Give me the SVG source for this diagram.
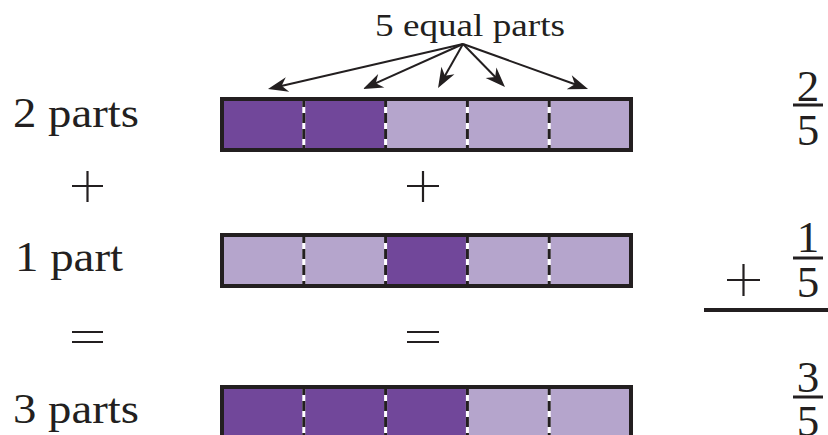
<svg xmlns="http://www.w3.org/2000/svg" width="828" height="435" viewBox="0 0 828 435">
<style>
text{font-family:"Liberation Serif","DejaVu Serif",serif;fill:#231f20}
.lbl{font-size:42px}
.frac{font-size:45px;text-anchor:middle}
.dk{fill:#71479a}
.lt{fill:#b5a5cc}
.frame{fill:none;stroke:#231f20;stroke-width:4}
.divw{stroke:#ffffff;stroke-width:3}
.divb{stroke:#231f20;stroke-width:3;stroke-dasharray:10 6}
.sym{stroke:#231f20;stroke-width:2.2;fill:none}
.arr{stroke:#231f20;stroke-width:2;fill:none;marker-end:url(#ah)}
.rule{stroke:#231f20;stroke-width:3}
</style>
<defs>
<marker id="ah" markerUnits="userSpaceOnUse" markerWidth="40" markerHeight="40" refX="0" refY="0" orient="auto" overflow="visible">
<path d="M8,0 L-12,-7.5 L-6,0 L-12,7.5 Z" fill="#231f20"/>
</marker>
<g id="dividers">
<line class="divw" x1="303.8" y1="0" x2="303.8" y2="55"/>
<line class="divw" x1="385.6" y1="0" x2="385.6" y2="55"/>
<line class="divw" x1="467.4" y1="0" x2="467.4" y2="55"/>
<line class="divw" x1="549.2" y1="0" x2="549.2" y2="55"/>
<line class="divb" x1="303.8" y1="0" x2="303.8" y2="55"/>
<line class="divb" x1="385.6" y1="0" x2="385.6" y2="55"/>
<line class="divb" x1="467.4" y1="0" x2="467.4" y2="55"/>
<line class="divb" x1="549.2" y1="0" x2="549.2" y2="55"/>
</g>
</defs>

<g id="label-top">
<text x="375" y="36" style="font-size:32px" textLength="190" lengthAdjust="spacingAndGlyphs">5 equal parts</text>
</g>

<g id="connectors">
<line class="arr" x1="463" y1="44" x2="275.8" y2="87.2"/>
<line class="arr" x1="463" y1="44" x2="370.3" y2="85.7"/>
<line class="arr" x1="463" y1="44" x2="442" y2="81"/>
<line class="arr" x1="463" y1="44" x2="499.4" y2="81.3"/>
<line class="arr" x1="463" y1="44" x2="580.5" y2="86.3"/>
</g>

<g id="bar1" transform="translate(0,97)">
<rect class="dk" x="222" y="2" width="81.8" height="51"/>
<rect class="dk" x="303.8" y="2" width="81.8" height="51"/>
<rect class="lt" x="385.6" y="2" width="81.8" height="51"/>
<rect class="lt" x="467.4" y="2" width="81.8" height="51"/>
<rect class="lt" x="549.2" y="2" width="81.8" height="51"/>
<use href="#dividers"/>
<rect class="frame" x="222" y="2" width="409" height="51"/>
</g>

<g id="bar2" transform="translate(0,233)">
<rect class="lt" x="222" y="2" width="81.8" height="51"/>
<rect class="lt" x="303.8" y="2" width="81.8" height="51"/>
<rect class="dk" x="385.6" y="2" width="81.8" height="51"/>
<rect class="lt" x="467.4" y="2" width="81.8" height="51"/>
<rect class="lt" x="549.2" y="2" width="81.8" height="51"/>
<use href="#dividers"/>
<rect class="frame" x="222" y="2" width="409" height="51"/>
</g>

<g id="bar3" transform="translate(0,385)">
<rect class="dk" x="222" y="2" width="81.8" height="51"/>
<rect class="dk" x="303.8" y="2" width="81.8" height="51"/>
<rect class="dk" x="385.6" y="2" width="81.8" height="51"/>
<rect class="lt" x="467.4" y="2" width="81.8" height="51"/>
<rect class="lt" x="549.2" y="2" width="81.8" height="51"/>
<use href="#dividers"/>
<rect class="frame" x="222" y="2" width="409" height="51"/>
</g>

<g id="left-labels">
<text class="lbl" x="13" y="127" textLength="126" lengthAdjust="spacingAndGlyphs">2 parts</text>
<text class="lbl" x="15" y="271" textLength="108" lengthAdjust="spacingAndGlyphs">1 part</text>
<text class="lbl" x="13" y="423" textLength="126" lengthAdjust="spacingAndGlyphs">3 parts</text>
</g>

<g id="plus-left"><path class="sym" d="M72,186 H103 M87.5,171 V202"/></g>
<g id="equals-left"><path class="sym" d="M72,332 H103 M72,342 H103"/></g>
<g id="plus-mid"><path class="sym" d="M407,186 H439 M423,171 V202"/></g>
<g id="equals-mid"><path class="sym" d="M407,332 H439 M407,342 H439"/></g>

<g id="frac1">
<text class="frac" x="808" y="101">2</text>
<line class="rule" x1="793" y1="105" x2="823" y2="105"/>
<text class="frac" x="808" y="145">5</text>
</g>
<g id="frac2">
<text class="frac" x="808" y="252">1</text>
<line class="rule" x1="793" y1="258" x2="823" y2="258"/>
<text class="frac" x="808" y="297">5</text>
<path class="sym" d="M727,280 H760 M743.5,264 V296"/>
</g>
<g id="sum-line"><line x1="704" y1="310" x2="828" y2="310" stroke="#231f20" stroke-width="4"/></g>
<g id="frac3">
<text class="frac" x="808" y="392">3</text>
<line class="rule" x1="793" y1="397" x2="823" y2="397"/>
<text class="frac" x="808" y="436">5</text>
</g>
</svg>
